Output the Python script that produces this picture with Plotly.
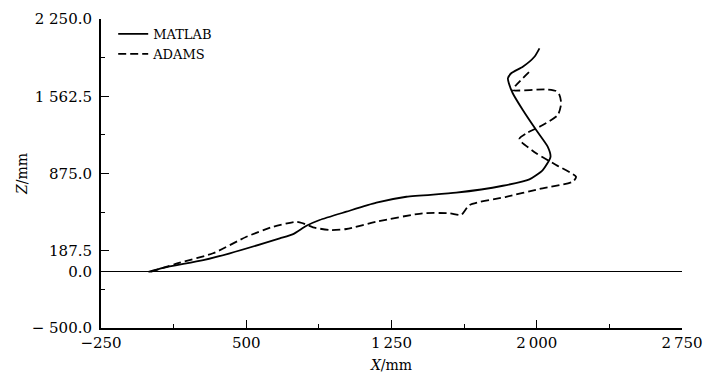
import plotly.graph_objects as go

# MATLAB (solid) curve
matlab_x = [-5, 71, 278, 415, 673, 742, 811, 879, 1017, 1172, 1327, 1584, 1825, 1962, 2031, 2071,
            2057, 1997, 1928, 1876, 1856, 1851, 1868, 1928, 1988, 2014]
matlab_z = [0, 36, 105, 165, 298, 336, 410, 461, 535, 615, 668, 704, 766, 823, 906, 1024,
            1113, 1262, 1440, 1589, 1678, 1722, 1767, 1825, 1914, 1989]

# ADAMS (dashed) curve
adams_x = [5, 157, 329, 501, 639, 759, 793, 845, 931, 1017, 1172, 1412, 1550, 1610, 1653, 1842,
           2014, 2186, 2203, 2100, 1997, 1920, 1911, 1946, 2031, 2109, 2126, 2117, 2100, 2049,
           1876, 1894, 1962]
adams_z = [0, 81, 165, 312, 401, 446, 432, 396, 372, 381, 446, 521, 521, 506, 595, 668,
           737, 802, 846, 951, 1055, 1158, 1188, 1233, 1306, 1396, 1500, 1574, 1609, 1624,
           1618, 1663, 1781]

x_ticks = [-250, 500, 1250, 2000, 2750]
x_tick_text = ["\u2212250", "500", "1\u2009250", "2\u2009000", "2\u2009750"]
x_minor = [125, 875, 1625, 2375]

z_ticks = [2250, 1562.5, 875, 187.5, 0, -500]
z_tick_text = ["2 250.0", "1 562.5", "875.0", "187.5", "0.0", "\u2212 500.0"]
z_minor = [1906.25, 1218.75, 531.25, -156.25]

FONT = "DejaVu Serif"

fig = go.Figure()
fig.add_trace(go.Scatter(x=matlab_x, y=matlab_z, mode="lines", name="MATLAB",
                         line=dict(color="black", width=1.8, shape="spline", smoothing=0.6)))
fig.add_trace(go.Scatter(x=adams_x, y=adams_z, mode="lines", name="ADAMS",
                         line=dict(color="black", width=1.8, dash="8px,4px", shape="spline", smoothing=0.6)))

fig.update_layout(
    width=717, height=378,
    margin=dict(l=93, r=43, t=11, b=58, autoexpand=False),
    paper_bgcolor="white", plot_bgcolor="white",
    font=dict(family=FONT, size=15, color="black"),
    showlegend=True,
    legend=dict(x=0.021, y=1.0, xanchor="left", yanchor="top",
                bgcolor="rgba(0,0,0,0)", font=dict(family=FONT, size=13, color="black"),
                tracegroupgap=0, itemwidth=30),
)
fig.update_xaxes(
    range=[-250, 2750], tickmode="array", tickvals=x_ticks, ticktext=x_tick_text,
    ticks="inside", ticklen=8, tickwidth=1, tickcolor="black",
    minor=dict(tickmode="array", tickvals=x_minor, ticks="inside", ticklen=4, tickcolor="black"),
    showline=True, linecolor="black", linewidth=2, showgrid=False, zeroline=False,
    title=dict(text="<i>X</i>/mm", standoff=9, font=dict(size=14, color="black")),
)
fig.update_yaxes(
    range=[-500, 2250], tickmode="array", tickvals=z_ticks, ticktext=z_tick_text,
    ticks="inside", ticklen=8, tickwidth=1, tickcolor="black", ticklabelstandoff=4,
    minor=dict(tickmode="array", tickvals=z_minor, ticks="inside", ticklen=4, tickcolor="black"),
    showline=True, linecolor="black", linewidth=2, showgrid=False,
    zeroline=True, zerolinecolor="black", zerolinewidth=1,
    title=dict(text="<i>Z</i>/mm", standoff=1, font=dict(size=14, color="black")),
)

fig.write_html("out.html")
